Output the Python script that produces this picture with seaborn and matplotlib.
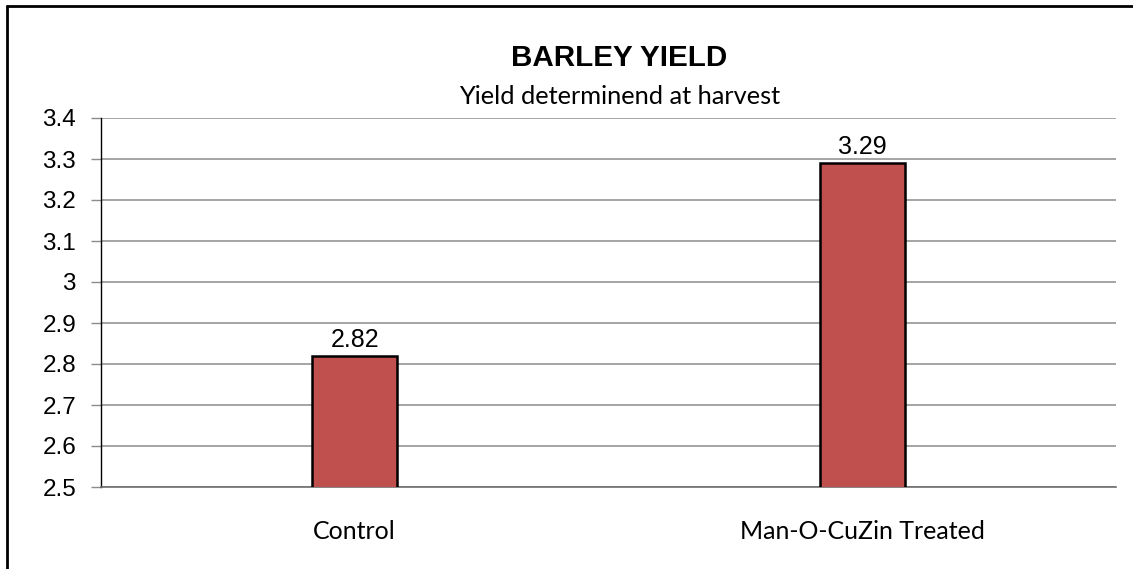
import matplotlib
matplotlib.use("Agg")
import matplotlib.pyplot as plt
import seaborn as sns
import pandas as pd
from matplotlib.lines import Line2D

# data
categories = ["Control", "Man-O-CuZin Treated"]
yields = [2.82, 3.29]
value_labels = ["2.82", "3.29"]
y_ticks = [2.5, 2.6, 2.7, 2.8, 2.9, 3.0, 3.1, 3.2, 3.3, 3.4]
y_tick_labels = ["2.5", "2.6", "2.7", "2.8", "2.9", "3", "3.1", "3.2", "3.3", "3.4"]

df = pd.DataFrame({"treatment": categories, "yield": yields})

sns.set_style("white")
plt.rcParams["font.family"] = ["Liberation Sans", "DejaVu Sans"]
plt.rcParams["text.color"] = "black"
plt.rcParams["xtick.color"] = "black"
plt.rcParams["ytick.color"] = "black"

fig = plt.figure(figsize=(11.33, 5.69), dpi=100)
ax = fig.add_axes([101 / 1133, 1 - 487 / 569, (1116 - 101) / 1133, (487 - 118) / 569])

sns.barplot(data=df, x="treatment", y="yield", ax=ax, color="#C0504D",
            saturation=1, width=0.167, edgecolor="black", linewidth=1.8, zorder=3)

ax.set_ylim(2.5, 3.4)
ax.set_yticks(y_ticks)
ax.set_yticklabels(y_tick_labels, fontsize=17.5)
ax.yaxis.grid(True, color="#8c8c8c", linewidth=1.1, zorder=0)
ax.set_axisbelow(True)
ax.tick_params(axis="y", length=7, width=1, color="#8c8c8c", pad=11, left=True,
               labelcolor="black")
ax.tick_params(axis="x", length=0, pad=24, labelcolor="black")
for lab in ax.get_xticklabels():
    lab.set_fontfamily(["Lato", "DejaVu Sans"])
    lab.set_fontsize(18)
ax.set_xlabel("")
ax.set_ylabel("")

for s in ["top", "right"]:
    ax.spines[s].set_visible(False)
ax.spines["left"].set_color("black")
ax.spines["left"].set_linewidth(1)
ax.spines["bottom"].set_color("#6e6e6e")
ax.spines["bottom"].set_linewidth(1.2)

for i, (v, t) in enumerate(zip(yields, value_labels)):
    ax.text(i, v + 0.01, t, ha="center", va="bottom", fontsize=18, color="black")

fig.text(619 / 1133, 1 - 58 / 569, "BARLEY YIELD", ha="center", va="center",
         fontsize=21.3, fontweight="bold", color="black")
fig.text(620 / 1133, 1 - 96 / 569, "Yield determinend at harvest", ha="center",
         va="center", fontsize=18.3, color="black", family=["Lato", "DejaVu Sans"])

# chart border (left and top edges)
fig.add_artist(Line2D([7 / 1133, 7 / 1133], [0, 1 - 6 / 569], color="black",
                      linewidth=2, transform=fig.transFigure))
fig.add_artist(Line2D([7 / 1133, 1], [1 - 6 / 569, 1 - 6 / 569], color="black",
                      linewidth=2, transform=fig.transFigure))

fig.savefig("out.png", dpi=100, facecolor="white")
